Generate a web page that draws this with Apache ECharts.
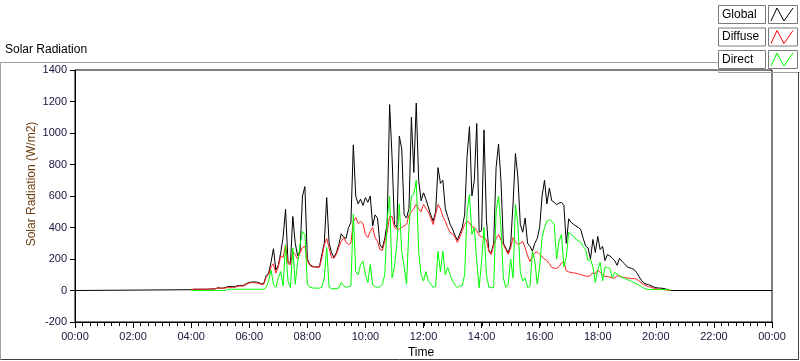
<!DOCTYPE html>
<html><head><meta charset="utf-8">
<script src="https://cdn.jsdelivr.net/npm/echarts@6/dist/echarts.min.js"></script>
<style>html,body{margin:0;padding:0;background:#fff}#c{width:800px;height:361px}</style>
</head><body><div id="c"></div>
<script>
// ---- data (minutes since midnight, 5-minute samples from 04:00) ----
const startMinute = 240;
const stepMinutes = 5;
const dayStartMinute = 0;
const dayEndMinute = 1440;
const nightValue = 0;
const minorTickMinutes = 15;
const yMin = -200, yMax = 1400, yStep = 200;
const seriesNames = ['Global', 'Diffuse', 'Direct'];
const xTickLabels = ['00:00','02:00','04:00','06:00','08:00','10:00','12:00','14:00','16:00','18:00','20:00','22:00','00:00'];

const globalValues = [
5,8,8,8,8,8,8,8,10,10,10,
18,15,15,18,25,25,25,25,30,32,
32,35,45,52,53,55,53,50,42,45,
95,110,180,265,130,160,240,340,515,185,
170,470,300,220,250,600,660,200,165,155,
150,150,150,230,300,590,300,240,210,240,
290,360,340,330,400,430,925,600,550,580,
540,590,560,600,410,480,460,290,270,330,
430,1180,850,420,400,980,900,480,460,520,
1100,750,1190,700,570,620,580,530,480,440,
500,780,680,700,520,470,420,390,350,320,
360,400,480,850,1040,600,700,1060,370,380,
1020,450,250,240,300,780,930,700,300,270,
240,290,550,870,720,420,370,460,300,280,
250,300,330,400,600,700,550,650,570,560,
545,555,560,540,300,455,432,420,410,400,
387,330,282,270,200,324,241,343,260,280,
190,228,220,205,190,160,205,186,170,152,
145,140,133,115,90,65,49,40,38,30,
23,18,16,15,13,10,6,0
];
const diffuseValues = [
5,8,8,8,8,8,8,8,10,10,10,
15,15,15,15,20,20,20,20,25,28,
28,30,40,48,50,50,48,45,38,40,
85,100,150,170,110,150,220,210,290,170,
165,248,228,200,240,273,280,190,160,150,
150,148,148,210,290,330,270,210,205,230,
273,311,336,305,292,300,438,463,425,438,
425,356,336,375,400,336,311,260,255,310,
370,470,470,400,390,390,400,410,420,480,
500,520,546,520,500,546,520,500,460,419,
483,546,520,470,440,400,368,360,340,305,
340,380,419,440,430,406,400,380,350,340,
340,320,250,228,290,330,356,320,292,260,
230,270,336,310,292,300,311,273,220,184,
220,240,245,230,215,200,190,170,146,142,
140,152,175,184,125,118,114,112,110,105,
102,95,92,90,95,114,105,130,115,100,
90,88,85,80,78,95,90,85,82,80,
78,76,76,72,62,48,38,30,25,21,
15,12,10,8,6,4,2,0
];
const directValues = [
0,0,0,0,0,0,0,0,0,0,0,
0,0,0,0,8,8,8,8,8,8,
8,8,8,8,8,8,8,8,8,8,
20,60,130,40,20,80,120,30,290,60,
20,270,40,180,290,375,356,40,20,17,
15,15,15,20,80,273,20,12,12,12,
15,50,30,20,25,30,483,120,100,165,
186,100,50,165,35,25,17,25,40,100,
450,600,80,150,300,550,248,150,40,400,
600,610,700,248,100,60,120,60,40,20,
25,248,120,250,100,146,100,60,35,17,
30,30,100,500,610,356,400,186,17,186,
400,100,22,17,20,500,600,400,80,20,
40,200,80,546,420,120,60,80,20,25,
248,186,40,150,336,400,440,450,440,420,
200,311,356,150,210,370,356,345,325,315,
305,280,260,190,197,150,51,130,180,60,
150,145,140,80,115,105,95,85,78,70,
65,57,50,42,35,25,15,8,6,6,
6,6,6,6,6,6,6,0
];

// ---- build ----
function toPoints(values){ return values.map((v,i)=>[startMinute + i*stepMinutes, v]); }
const globalData = [[dayStartMinute, nightValue]].concat(toPoints(globalValues)).concat([[dayEndMinute, nightValue]]);
const diffuseData = toPoints(diffuseValues);
const directData = toPoints(directValues);
const minorTickData = [];
for (let m = dayStartMinute; m <= dayEndMinute; m += minorTickMinutes) minorTickData.push([m, yMin]);

const FONT = 'Liberation Sans';
const tickColor = '#14143c';
const chart = echarts.init(document.getElementById('c'), null, {renderer:'canvas'});

const legendRows = [
  {name: seriesNames[0], color:'#000000', y:5},
  {name: seriesNames[1], color:'#ff0000', y:27.5},
  {name: seriesNames[2], color:'#00ff00', y:50}
];
const graphics = [];
graphics.push({type:'polyline', silent:true, shape:{points:[[0.5,359.5],[0.5,62.5],[718.5,62.5],[718.5,72.5],[800,72.5]]}, style:{stroke:'#a0a0a0', lineWidth:1, fill:null}});
graphics.push({type:'polyline', silent:true, shape:{points:[[798.5,72.5],[798.5,359.5],[0.5,359.5]]}, style:{stroke:'#404040', lineWidth:1, fill:null}});
legendRows.forEach(r=>{
  graphics.push({type:'rect', silent:true, shape:{x:718.5,y:r.y+0.5,width:47,height:18}, style:{fill:'#ffffff', stroke:'#7a7a7a', lineWidth:1}});
  graphics.push({type:'text', silent:true, x:722, y:r.y+9.5, style:{text:r.name, font:'12px "'+FONT+'"', fill:'#000', verticalAlign:'middle', align:'left'}});
  graphics.push({type:'rect', silent:true, shape:{x:768.5,y:r.y+0.5,width:29,height:18}, style:{fill:'#ffffff', stroke:'#7a7a7a', lineWidth:1}});
  graphics.push({type:'polyline', silent:true, shape:{points:[[771,r.y+16],[777,r.y+3],[784,r.y+16],[793,r.y+3]]}, style:{stroke:r.color, lineWidth:1, fill:null}});
});
graphics.push({type:'text', silent:true, x:5, y:50, style:{text:'Solar Radiation', font:'12px "'+FONT+'"', fill:'#000', verticalAlign:'middle', align:'left'}});
graphics.push({type:'text', silent:true, x:32, y:184, rotation:Math.PI/2, style:{text:'Solar Radiation (W/m2)', font:'12px "'+FONT+'"', fill:'#6b3d10', verticalAlign:'middle', align:'center'}});
graphics.push({type:'text', silent:true, x:421, y:353, style:{text:'Time', font:'12px "'+FONT+'"', fill:'#000', verticalAlign:'middle', align:'center'}});

chart.setOption({
  animation:false,
  backgroundColor:'#ffffff',
  grid:{left:75, right:28, top:70, bottom:39, show:true, borderColor:'#000', borderWidth:1, backgroundColor:'#fff'},
  xAxis:{
    type:'value', min:dayStartMinute, max:dayEndMinute, interval:120,
    axisLine:{onZero:false, lineStyle:{color:'#000', width:1}},
    axisTick:{show:true, length:6, lineStyle:{color:'#000', width:1}},
    splitLine:{show:false},
    axisLabel:{color:tickColor, fontFamily:FONT, fontSize:11, margin:9,
      formatter:(v)=>xTickLabels[Math.round(v/120)]}
  },
  yAxis:{
    type:'value', min:yMin, max:yMax, interval:yStep,
    axisLine:{show:true, lineStyle:{color:'#000'}},
    axisTick:{show:true, length:5, lineStyle:{color:'#000'}},
    splitLine:{show:false},
    axisLabel:{color:tickColor, fontFamily:FONT, fontSize:11, margin:8, formatter:(v)=>String(v)}
  },
  graphic:graphics,
  series:[
    {name:seriesNames[0], type:'line', data:globalData, showSymbol:false, symbol:'none', lineStyle:{color:'#000', width:1}, z:2},
    {name:seriesNames[1], type:'line', data:diffuseData, showSymbol:false, symbol:'none', lineStyle:{color:'#ff2020', width:1}, z:3},
    {name:seriesNames[2], type:'line', data:directData, showSymbol:false, symbol:'none', lineStyle:{color:'#00ff00', width:1}, z:4},
    {name:'minorTicks', type:'custom', data:minorTickData, clip:false, silent:true, z:10,
      renderItem:(params, api)=>{
        const p = api.coord([api.value(0), api.value(1)]);
        const x = Math.round(p[0]) + 0.5;
        return {type:'line', shape:{x1:x, y1:p[1], x2:x, y2:p[1]+4}, style:{stroke:'#000', lineWidth:1}};
      }}
  ]
});
</script></body></html>
